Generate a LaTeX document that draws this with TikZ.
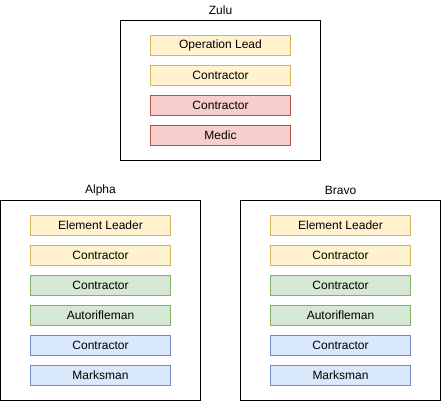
\documentclass[tikz,border=0pt]{standalone}
\usepackage{fontspec}
\setmainfont{Liberation Sans}
\definecolor{yfill}{HTML}{FFF2CC}\definecolor{ydraw}{HTML}{D6B656}
\definecolor{rfill}{HTML}{F8CECC}\definecolor{rdraw}{HTML}{B85450}
\definecolor{gfill}{HTML}{D5E8D4}\definecolor{gdraw}{HTML}{82B366}
\definecolor{bfill}{HTML}{DAE8FC}\definecolor{bdraw}{HTML}{6C8EBF}
\begin{document}
\begin{tikzpicture}[x=1pt,y=-1pt,
  every node/.style={font=\fontsize{12}{14}\selectfont},
  group/.style={draw=black,line width=1pt,fill=white},
  role/.style={rectangle,minimum width=140pt,minimum height=20pt,inner sep=0pt,line width=1pt},
  yel/.style={role,fill=yfill,draw=ydraw},
  red/.style={role,fill=rfill,draw=rdraw},
  grn/.style={role,fill=gfill,draw=gdraw},
  blu/.style={role,fill=bfill,draw=bdraw},
  title/.style={inner sep=0pt}]
\useasboundingbox (0,0) rectangle (441,401);
% Zulu
\draw[group] (120.5,20.5) rectangle (320.5,160.5);
\node[title] (zt) at (220.5,10) {Zulu};
\node[yel] (z1) at (220.5,45.5) {Operation Lead};
\node[yel] (z2) at (220.5,75.5) {Contractor};
\node[red] (z3) at (220.5,105.5) {Contractor};
\node[red] (z4) at (220.5,135.5) {Medic};
% Alpha
\draw[group] (0.5,200.5) rectangle (200.5,400.5);
\node[title] (at) at (100.5,190) {Alpha};
\node[yel] (a1) at (100.5,225.5) {Element Leader};
\node[yel] (a2) at (100.5,255.5) {Contractor};
\node[grn] (a3) at (100.5,285.5) {Contractor};
\node[grn] (a4) at (100.5,315.5) {Autorifleman};
\node[blu] (a5) at (100.5,345.5) {Contractor};
\node[blu] (a6) at (100.5,375.5) {Marksman};
% Bravo
\draw[group] (240.5,200.5) rectangle (440.5,400.5);
\node[title] (bt) at (340.5,190) {Bravo};
\node[yel] (b1) at (340.5,225.5) {Element Leader};
\node[yel] (b2) at (340.5,255.5) {Contractor};
\node[grn] (b3) at (340.5,285.5) {Contractor};
\node[grn] (b4) at (340.5,315.5) {Autorifleman};
\node[blu] (b5) at (340.5,345.5) {Contractor};
\node[blu] (b6) at (340.5,375.5) {Marksman};
\end{tikzpicture}
\end{document}
